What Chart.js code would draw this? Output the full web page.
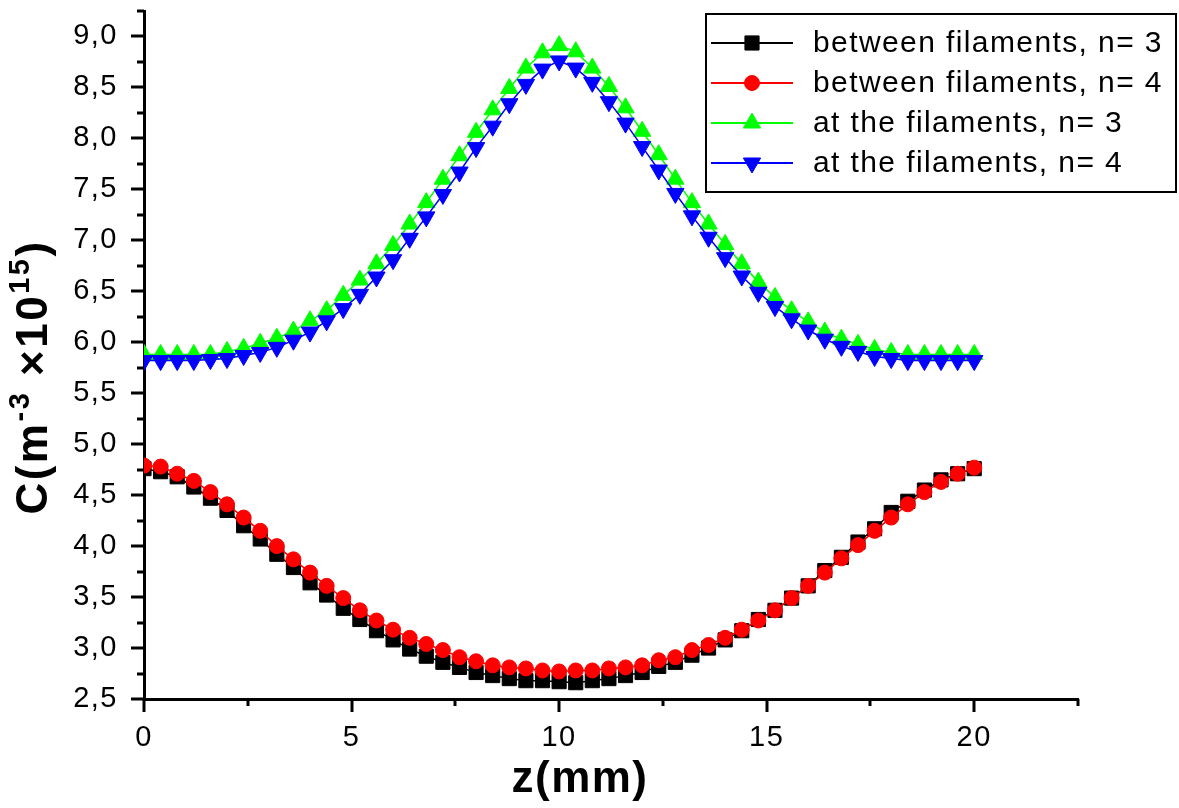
<!DOCTYPE html>
<html>
<head>
<meta charset="utf-8">
<script src="https://cdn.jsdelivr.net/npm/chart.js@4/dist/chart.umd.min.js"></script>
<style>
  html, body { margin: 0; padding: 0; background: #fff; }
  #wrap { width: 1179px; height: 808px; position: relative; }
</style>
</head>
<body>
<div id="wrap"><canvas id="chart"></canvas></div>
<script>
  // z positions (mm)
  var zMm = [0, 0.4, 0.8, 1.2, 1.6, 2, 2.4, 2.8, 3.2, 3.6, 4, 4.4, 4.8, 5.2, 5.6, 6, 6.4, 6.8, 7.2, 7.6,
    8, 8.4, 8.8, 9.2, 9.6, 10, 10.4, 10.8, 11.2, 11.6, 12, 12.4, 12.8, 13.2, 13.6, 14, 14.4, 14.8, 15.2, 15.6,
    16, 16.4, 16.8, 17.2, 17.6, 18, 18.4, 18.8, 19.2, 19.6, 20];

  var betweenN3 = [4.76, 4.73, 4.68, 4.58, 4.47, 4.35, 4.20, 4.07, 3.92, 3.79, 3.64, 3.52, 3.39, 3.28, 3.17, 3.08,
    2.99, 2.92, 2.86, 2.81, 2.76, 2.73, 2.70, 2.68, 2.68, 2.67, 2.66, 2.68, 2.70, 2.73, 2.76, 2.82, 2.86, 2.93,
    3.00, 3.08, 3.17, 3.28, 3.37, 3.49, 3.61, 3.76, 3.89, 4.04, 4.17, 4.33, 4.44, 4.55, 4.65, 4.71, 4.76];

  var betweenN4 = [4.79, 4.78, 4.71, 4.64, 4.53, 4.41, 4.28, 4.15, 4.00, 3.87, 3.74, 3.61, 3.49, 3.37, 3.27, 3.18,
    3.10, 3.04, 2.98, 2.91, 2.87, 2.83, 2.81, 2.80, 2.78, 2.77, 2.78, 2.78, 2.80, 2.81, 2.83, 2.88, 2.91, 2.98,
    3.03, 3.10, 3.18, 3.27, 3.37, 3.49, 3.61, 3.74, 3.88, 4.01, 4.15, 4.28, 4.41, 4.53, 4.63, 4.71, 4.77];

  var atN3 = [5.88, 5.88, 5.88, 5.88, 5.88, 5.91, 5.94, 5.99, 6.04, 6.11, 6.21, 6.31, 6.46, 6.61, 6.77, 6.95,
    7.16, 7.37, 7.60, 7.83, 8.06, 8.28, 8.49, 8.69, 8.84, 8.91, 8.85, 8.69, 8.51, 8.30, 8.07, 7.84, 7.60, 7.37,
    7.16, 6.96, 6.77, 6.59, 6.44, 6.31, 6.20, 6.10, 6.03, 5.98, 5.93, 5.90, 5.88, 5.88, 5.88, 5.88, 5.88];

  var atN4 = [5.82, 5.82, 5.82, 5.82, 5.83, 5.84, 5.87, 5.90, 5.95, 6.02, 6.10, 6.21, 6.33, 6.47, 6.64, 6.81,
    7.02, 7.23, 7.45, 7.67, 7.91, 8.12, 8.34, 8.53, 8.68, 8.76, 8.69, 8.55, 8.36, 8.15, 7.92, 7.69, 7.46, 7.24,
    7.03, 6.83, 6.65, 6.49, 6.35, 6.23, 6.12, 6.03, 5.96, 5.91, 5.86, 5.84, 5.82, 5.82, 5.82, 5.82, 5.82];

  var seriesLabels = ['between filaments, n= 3', 'between filaments, n= 4', 'at the filaments, n= 3', 'at the filaments, n= 4'];

  var xMajorTicks = [0, 5, 10, 15, 20];
  var xMinorTicks = [2.5, 7.5, 12.5, 17.5, 22.5];
  var yMajorTicks = [2.5, 3.0, 3.5, 4.0, 4.5, 5.0, 5.5, 6.0, 6.5, 7.0, 7.5, 8.0, 8.5, 9.0];
  var yMinorTicks = [2.75, 3.25, 3.75, 4.25, 4.75, 5.25, 5.75, 6.25, 6.75, 7.25, 7.75, 8.25, 8.75, 9.25];

  var FONT = '"Liberation Sans", Arial, sans-serif';

  function pts(values) {
    return values.map(function (v, i) { return { x: zMm[i], y: v }; });
  }

  function makeSet(label, values, color, style, radius, rotation, order) {
    return {
      label: label,
      data: pts(values),
      showLine: true,
      borderColor: color,
      backgroundColor: color,
      borderWidth: 1.5,
      pointStyle: style,
      pointRadius: radius,
      pointHoverRadius: radius,
      pointRotation: rotation,
      pointBorderWidth: 1,
      pointBorderColor: color,
      pointBackgroundColor: color,
      order: order
    };
  }

  var datasets = [
    makeSet(seriesLabels[0], betweenN3, '#000000', 'rect', 10, 0, 4),
    makeSet(seriesLabels[1], betweenN4, '#ff0000', 'circle', 7.5, 0, 3),
    makeSet(seriesLabels[2], atN3, '#00ff00', 'triangle', 10, 0, 2),
    makeSet(seriesLabels[3], atN4, '#0000ff', 'triangle', 10, 180, 1)
  ];

  var letterSpacingPlugin = {
    id: 'spacing',
    beforeDraw: function (chart) {
      chart.ctx.letterSpacing = '1.5px';
    }
  };

  var decorPlugin = {
    id: 'decor',
    afterDraw: function (chart) {
      var ctx = chart.ctx;
      var xs = chart.scales.x;
      var ys = chart.scales.y;
      var area = chart.chartArea;

      // tick marks
      ctx.save();
      ctx.strokeStyle = '#000';
      ctx.lineWidth = 3;
      ctx.beginPath();
      xMajorTicks.forEach(function (v) {
        var px = Math.round(xs.getPixelForValue(v));
        ctx.moveTo(px, area.bottom); ctx.lineTo(px, area.bottom + 13);
      });
      xMinorTicks.forEach(function (v) {
        var px = Math.round(xs.getPixelForValue(v));
        ctx.moveTo(px, area.bottom); ctx.lineTo(px, area.bottom + 7);
      });
      yMajorTicks.forEach(function (v) {
        var py = Math.round(ys.getPixelForValue(v));
        ctx.moveTo(area.left, py); ctx.lineTo(area.left - 13, py);
      });
      yMinorTicks.forEach(function (v) {
        var py = Math.round(ys.getPixelForValue(v));
        ctx.moveTo(area.left, py); ctx.lineTo(area.left - 7, py);
      });
      ctx.stroke();
      ctx.restore();

      // axis titles
      ctx.save();
      ctx.fillStyle = '#000';
      ctx.textBaseline = 'alphabetic';
      ctx.letterSpacing = '1.5px';
      ctx.font = 'bold 44px ' + FONT;
      ctx.textAlign = 'center';
      ctx.fillText('z(mm)', 580, 792);

      ctx.translate(47, 377);
      ctx.rotate(-Math.PI / 2);
      ctx.letterSpacing = '2.5px';
      var parts = [
        { t: 'C(m', sup: false },
        { t: '-3', sup: true },
        { t: ' \u00d710', sup: false },
        { t: '15', sup: true },
        { t: ')', sup: false }
      ];
      var big = 'bold 44px ' + FONT;
      var small = 'bold 29px ' + FONT;
      var total = 0;
      parts.forEach(function (p) {
        ctx.font = p.sup ? small : big;
        p.w = ctx.measureText(p.t).width;
        total += p.w;
      });
      ctx.textAlign = 'left';
      var cx = -total / 2;
      parts.forEach(function (p) {
        ctx.font = p.sup ? small : big;
        ctx.fillText(p.t, cx, p.sup ? -18 : 0);
        cx += p.w;
      });
      ctx.restore();

      // legend
      ctx.save();
      ctx.strokeStyle = '#000';
      ctx.lineWidth = 2;
      ctx.strokeRect(706, 14, 470, 178);
      var rowY = [43, 83, 123, 163];
      chart.data.datasets.forEach(function (ds, i) {
        var y = rowY[i];
        ctx.strokeStyle = ds.borderColor;
        ctx.lineWidth = 2;
        ctx.beginPath();
        ctx.moveTo(711, y); ctx.lineTo(793, y);
        ctx.stroke();
        ctx.fillStyle = ds.pointBackgroundColor;
        ctx.strokeStyle = ds.pointBorderColor;
        ctx.lineWidth = 1;
        Chart.helpers.drawPoint(ctx, {
          pointStyle: ds.pointStyle,
          radius: ds.pointRadius,
          rotation: ds.pointRotation,
          borderWidth: 1
        }, 752, y);
        ctx.fillStyle = '#000';
        ctx.font = '30px ' + FONT;
        ctx.letterSpacing = '1.4px';
        ctx.textAlign = 'left';
        ctx.textBaseline = 'middle';
        ctx.fillText(ds.label, 813, y + 1);
      });
      ctx.restore();
    }
  };

  new Chart(document.getElementById('chart'), {
    type: 'scatter',
    data: { datasets: datasets },
    plugins: [letterSpacingPlugin, decorPlugin],
    options: {
      responsive: true,
      maintainAspectRatio: false,
      animation: false,
      layout: { padding: { left: 0, top: 4, right: 101, bottom: 0 } },
      plugins: {
        legend: { display: false },
        tooltip: { enabled: false },
        title: { display: false }
      },
      scales: {
        x: {
          type: 'linear',
          min: 0,
          max: 22.5,
          afterFit: function (scale) {
            scale.height = 109;
            scale.paddingLeft = 0;
            scale.paddingRight = 0;
          },
          afterBuildTicks: function (scale) {
            scale.ticks = xMajorTicks.map(function (v) { return { value: v }; });
          },
          ticks: {
            color: '#000',
            font: { family: FONT, size: 29 },
            padding: 22,
            maxRotation: 0,
            callback: function (v) { return String(v); }
          },
          grid: { display: true, drawOnChartArea: false, drawTicks: false },
          border: { display: true, color: '#000', width: 3 }
        },
        y: {
          type: 'linear',
          min: 2.5,
          max: 9.25,
          afterFit: function (scale) {
            scale.width = 144;
            scale.paddingTop = 0;
            scale.paddingBottom = 0;
          },
          afterBuildTicks: function (scale) {
            scale.ticks = yMajorTicks.map(function (v) { return { value: v }; });
          },
          ticks: {
            color: '#000',
            font: { family: FONT, size: 29 },
            padding: 26,
            callback: function (v) { return Number(v).toFixed(1).replace('.', ','); }
          },
          grid: { display: true, drawOnChartArea: false, drawTicks: false },
          border: { display: true, color: '#000', width: 3 }
        }
      }
    }
  });
</script>
</body>
</html>
